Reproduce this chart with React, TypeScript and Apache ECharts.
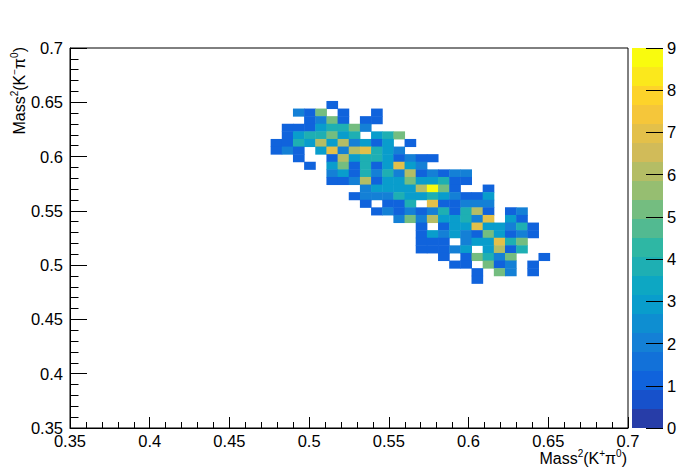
import React, { useEffect, useRef } from "react";
import * as echarts from "echarts";

// ---- axis ranges / binning ----
const X_MIN = 0.35;
const X_MAX = 0.7;
const Y_MIN = 0.35;
const Y_MAX = 0.7;
const AXIS_STEP = 0.05;
const N_BINS = 50;
const Z_MIN = 0;
const Z_MAX = 9;
const Z_STEP = 1;
const N_CONTOURS = 20;

const X_TITLE = "{b|Mass}{s|2}{b|(K}{s|+}{b|π}{s|0}{b|)}";
const Y_TITLE = "{b|Mass}{s|2}{b|(K}{s|−}{b|π}{s|0}{b|)}";

// ---- bin contents ----
// each row: [row index counted from the top (0 = 0.693..0.700), first column (0 = 0.350..0.357), contents...]
const row07 = [7, 23, 1];
const row08 = [8, 20, 2, 1, 5, 0, 1, 0, 0, 1];
const row09 = [9, 21, 1, 2, 5, 1, 0, 1, 1];
const row10 = [10, 19, 1, 1, 1, 3, 4, 4, 5, 2];
const row11 = [11, 19, 1, 3, 4, 4, 5, 3, 4, 0, 3, 4, 5];
const row12 = [12, 18, 1, 1, 4, 3, 6, 3, 6, 2, 3, 1, 3, 0, 1];
const row13 = [13, 18, 1, 2, 1, 0, 3, 7, 2, 6, 7, 4, 3, 2];
const row14 = [14, 20, 1, 0, 0, 1, 6, 3, 4, 4, 3, 1, 2, 1, 1];
const row15 = [15, 21, 1, 0, 3, 5, 1, 4, 1, 3, 7, 3, 2];
const row16 = [16, 23, 2, 3, 1, 4, 2, 4, 2, 6, 1, 2, 1, 2, 2];
const row17 = [17, 23, 1, 1, 2, 6, 1, 3, 3, 5, 3, 3, 4, 1, 1];
const row18 = [18, 26, 2, 3, 3, 3, 3, 6, 9, 5, 1, 0, 0, 1];
const row19 = [19, 25, 1, 2, 2, 2, 4, 3, 3, 4, 3, 2, 1, 1, 3];
const row20 = [20, 26, 1, 0, 1, 1, 4, 0, 7, 1, 1, 2, 2, 2];
const row21 = [21, 27, 1, 2, 1, 2, 1, 2, 4, 1, 4, 6, 1, 0, 1, 2];
const row22 = [22, 29, 2, 5, 2, 6, 3, 3, 4, 2, 7, 0, 3, 1];
const row23 = [23, 31, 1, 0, 1, 3, 3, 7, 3, 3, 2, 4, 1];
const row24 = [24, 31, 1, 3, 2, 3, 2, 1, 5, 3, 1, 2, 1];
const row25 = [25, 31, 1, 1, 1, 0, 2, 3, 3, 7, 4, 5];
const row26 = [26, 31, 1, 1, 1, 2, 3, 0, 3, 6, 1, 4];
const row27 = [27, 33, 1, 0, 1, 5, 4, 2, 5, 0, 0, 1];
const row28 = [28, 34, 1, 1, 0, 5, 1, 2, 0, 1];
const row29 = [29, 36, 1, 0, 5, 2, 0, 1];
const row30 = [30, 36, 1];

const cellRows = [
  row07, row08, row09, row10, row11, row12, row13, row14, row15, row16, row17, row18,
  row19, row20, row21, row22, row23, row24, row25, row26, row27, row28, row29, row30,
];

// ROOT "kBird" palette
const birdStops = [0, 0.125, 0.25, 0.375, 0.5, 0.625, 0.75, 0.875, 1];
const birdR = [0.2082, 0.0592, 0.078, 0.0232, 0.1802, 0.5301, 0.8186, 0.9956, 0.9764];
const birdG = [0.1664, 0.3599, 0.5041, 0.6419, 0.7178, 0.7492, 0.7328, 0.7862, 0.9832];
const birdB = [0.5293, 0.8684, 0.8385, 0.7914, 0.6425, 0.4662, 0.3499, 0.1968, 0.0539];

function birdColor(t: number): string {
  let i = 0;
  while (i < birdStops.length - 2 && t > birdStops[i + 1]) i++;
  const f = (t - birdStops[i]) / (birdStops[i + 1] - birdStops[i]);
  const ch = (a: number[]) => Math.round(255 * (a[i] + (a[i + 1] - a[i]) * f));
  return `rgb(${ch(birdR)},${ch(birdG)},${ch(birdB)})`;
}

const bandColors = Array.from({ length: N_CONTOURS }, (_, k) =>
  birdColor(Math.floor(((k + 0.99) * 255) / N_CONTOURS) / 254)
);

const FONT = "'Liberation Sans', Arial, Helvetica, sans-serif";

function buildCells(): [number, number, number][] {
  const out: [number, number, number][] = [];
  for (const row of cellRows) {
    const [r, c0, ...vals] = row;
    vals.forEach((v, k) => {
      if (v > 0) out.push([c0 + k, N_BINS - 1 - r, v]);
    });
  }
  return out;
}

const fmt = (v: number) => String(Number(v.toFixed(2)));

export default function App() {
  const ref = useRef<HTMLDivElement>(null);

  useEffect(() => {
    if (!ref.current) return;
    const chart = echarts.init(ref.current, null, { renderer: "svg" });

    const xw = (X_MAX - X_MIN) / N_BINS;
    const yw = (Y_MAX - Y_MIN) / N_BINS;
    const xCats = Array.from({ length: N_BINS }, (_, i) => (X_MIN + (i + 0.5) * xw).toFixed(4));
    const yCats = Array.from({ length: N_BINS }, (_, i) => (Y_MIN + (i + 0.5) * yw).toFixed(4));
    const band = (Z_MAX - Z_MIN) / N_CONTOURS;

    const pieces = bandColors.map((c, k) =>
      k === N_CONTOURS - 1
        ? { gte: Z_MIN + k * band, lte: Z_MAX + 0.01, color: c }
        : { gte: Z_MIN + k * band, lt: Z_MIN + (k + 1) * band, color: c }
    );

    const black = { color: "#000", width: 1 };
    const labelStyle = { color: "#000", fontSize: 16.5, fontFamily: FONT };
    const rich = {
      b: { fontSize: 16, fontFamily: FONT, fill: "#000", color: "#000", lineHeight: 20 },
      s: { fontSize: 10, fontFamily: FONT, fill: "#000", color: "#000", lineHeight: 11, verticalAlign: "top" },
    };

    const option: any = {
      animation: false,
      backgroundColor: "#fff",
      grid: [
        { left: 70, right: 70, top: 48, bottom: 48, show: false, outerBoundsMode: "none" },
        {
          left: 70, right: 70, top: 48, bottom: 48, show: true,
          borderColor: "#000", borderWidth: 1, backgroundColor: "transparent", outerBoundsMode: "none",
        },
        { left: 632, width: 31, top: 48, bottom: 48, show: false, outerBoundsMode: "none" },
      ],
      xAxis: [
        { gridIndex: 0, type: "category", data: xCats, show: false },
        {
          gridIndex: 1, type: "value", min: X_MIN, max: X_MAX, interval: AXIS_STEP, z: 10,
          axisLine: { show: true, lineStyle: black },
          axisTick: { show: true, inside: true, length: 11, lineStyle: black },
          minorTick: { show: true, splitNumber: 5, length: 6, lineStyle: black },
          axisLabel: { ...labelStyle, margin: 4, formatter: fmt },
          splitLine: { show: false },
        },
        { gridIndex: 2, type: "category", data: ["z"], show: false },
      ],
      yAxis: [
        { gridIndex: 0, type: "category", data: yCats, show: false },
        {
          gridIndex: 1, type: "value", min: Y_MIN, max: Y_MAX, interval: AXIS_STEP, z: 10,
          axisLine: { show: true, lineStyle: black },
          axisTick: { show: true, inside: true, length: 17, lineStyle: black },
          minorTick: { show: true, splitNumber: 5, length: 8.5, lineStyle: black },
          axisLabel: { ...labelStyle, margin: 7, formatter: fmt },
          splitLine: { show: false },
        },
        {
          gridIndex: 2, type: "value", min: Z_MIN, max: Z_MAX, interval: Z_STEP, position: "right", z: 10,
          axisLine: { show: false },
          axisTick: { show: true, inside: true, length: 17, lineStyle: black },
          axisLabel: { ...labelStyle, margin: 4 },
          splitLine: { show: false },
        },
      ],
      visualMap: {
        type: "piecewise", show: false, seriesIndex: 0, dimension: 2, pieces,
      },
      series: [
        {
          type: "heatmap", xAxisIndex: 0, yAxisIndex: 0, data: buildCells(),
          itemStyle: { borderWidth: 0 }, emphasis: { disabled: true }, silent: true,
        },
        ...bandColors.map((c) => ({
          type: "bar", xAxisIndex: 2, yAxisIndex: 2, stack: "palette",
          data: [band], barWidth: "100%", itemStyle: { color: c }, silent: true,
        })),
      ],
      graphic: [
        {
          type: "text", x: 627, y: 458.5, z: 20,
          style: { text: X_TITLE, rich, align: "right", verticalAlign: "middle" },
        },
        {
          type: "text", x: 19, y: 47, rotation: Math.PI / 2, z: 20,
          style: { text: Y_TITLE, rich, align: "right", verticalAlign: "middle" },
        },
      ],
    };

    chart.setOption(option);
    return () => chart.dispose();
  }, []);

  return (
    <div
      ref={ref}
      style={{ position: "fixed", left: 0, top: 0, width: 698, height: 476, background: "#fff" }}
    />
  );
}
